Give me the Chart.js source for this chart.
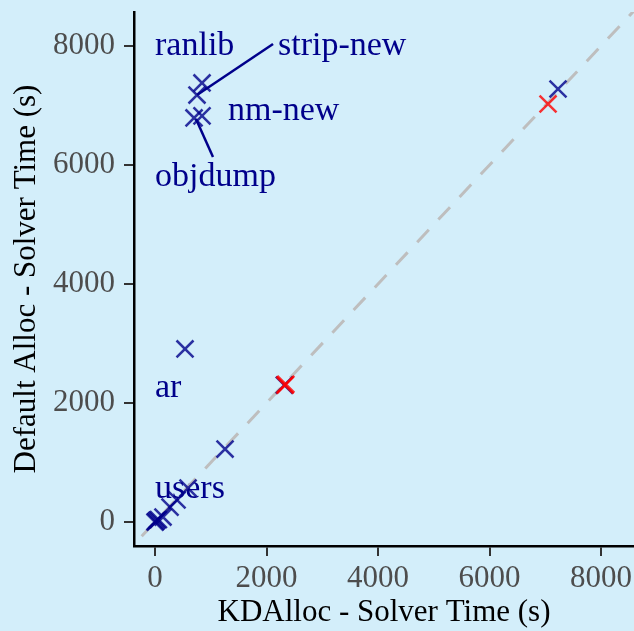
<!DOCTYPE html>
<html>
<head>
<meta charset="utf-8">
<script src="https://cdn.jsdelivr.net/npm/chart.js@4/dist/chart.umd.min.js"></script>
<style>
  html, body { margin: 0; padding: 0; background: #d3eefa; }
  #wrap { width: 634px; height: 631px; }
</style>
</head>
<body>
<div id="wrap"><canvas id="c" width="634" height="631"></canvas></div>
<script>
// Daten
const blueX = [843, 753, 843, 700, 538, 2320, 1256, 7229, 592, 395, 269, 143, 36, 0, 15, 60];
const blueY = [7378, 7176, 6824, 6790, 2908, 2300, 1227, 7277, 571, 370, 252, 84, 34, 0, 10, 40];
const redX = [2330, 2345, 7050];
const redY = [2300, 2315, 7025];
const xTicks = [0, 2000, 4000, 6000, 8000];
const yTicks = [0, 2000, 4000, 6000, 8000];

// Beschriftungen
const labelNames = ['ranlib', 'strip-new', 'nm-new', 'objdump', 'ar', 'users'];
const labelX = [0, 2206, 1309, 0, 0, 0];
const labelY = [8000, 8000, 6908, 5798, 2252, 555];
// Verbindungslinien: [x1, y1, x2, y2]
const segments = [[2117, 8034, 753, 7176], [1040, 6134, 735, 6773]];

const serif = '"Liberation Serif", "DejaVu Serif", serif';

function toPoints(xs, ys) {
  return xs.map((x, i) => ({ x: x, y: ys[i] }));
}

const labelPlugin = {
  id: 'labels',
  beforeDatasetsDraw(chart) {
    const ctx = chart.ctx;
    const xs = chart.scales.x, ys = chart.scales.y;
    ctx.save();
    ctx.fillStyle = '#00008b';
    ctx.font = '34px ' + serif;
    ctx.textAlign = 'left';
    ctx.textBaseline = 'middle';
    labelNames.forEach((t, i) => {
      ctx.fillText(t, xs.getPixelForValue(labelX[i]), ys.getPixelForValue(labelY[i]));
    });
    ctx.restore();
  },
  afterDatasetsDraw(chart) {
    const ctx = chart.ctx;
    const xs = chart.scales.x, ys = chart.scales.y;
    ctx.save();
    ctx.strokeStyle = '#00008b';
    ctx.lineWidth = 2.5;
    segments.forEach(s => {
      ctx.beginPath();
      ctx.moveTo(xs.getPixelForValue(s[0]), ys.getPixelForValue(s[1]));
      ctx.lineTo(xs.getPixelForValue(s[2]), ys.getPixelForValue(s[3]));
      ctx.stroke();
    });
    ctx.restore();
  }
};

const axisCommon = {
  type: 'linear',
  grid: { display: true, drawOnChartArea: false, drawTicks: true, tickLength: 10, color: '#333333', lineWidth: 2 },
  border: { display: true, color: '#000000', width: 2.5 },
  ticks: { color: '#4d4d4d', font: { family: serif, size: 31 }, callback: v => String(v) },
  title: { display: true, color: '#000000', font: { family: serif, size: 31 } }
};

new Chart(document.getElementById('c'), {
  type: 'scatter',
  data: {
    datasets: [
      {
        type: 'line',
        data: [{ x: -1000, y: -1000 }, { x: 10000, y: 10000 }],
        borderColor: '#bebebe',
        borderWidth: 3,
        borderDash: [17, 14],
        pointRadius: 0,
        order: 3
      },
      {
        data: toPoints(blueX, blueY),
        pointStyle: 'crossRot',
        pointRadius: 12,
        borderColor: 'rgba(0,0,139,0.8)',
        borderWidth: 2.5,
        order: 2
      },
      {
        data: toPoints(redX, redY),
        pointStyle: 'crossRot',
        pointRadius: 12,
        borderColor: 'rgba(255,0,0,0.8)',
        borderWidth: 2.5,
        order: 1
      }
    ]
  },
  options: {
    responsive: false,
    animation: false,
    layout: { autoPadding: false, padding: { top: 12, right: 0, left: 0, bottom: 0 } },
    plugins: { legend: { display: false }, tooltip: { enabled: false } },
    scales: {
      x: Object.assign({}, axisCommon, {
        min: -377, max: 8592,
        ticks: Object.assign({}, axisCommon.ticks, { padding: 4 }),
        afterBuildTicks: s => { s.ticks = xTicks.map(v => ({ value: v })); },
        afterFit: s => { s.height = 85; s.paddingLeft = 0; s.paddingRight = 0; },
        title: Object.assign({}, axisCommon.title, { text: 'KDAlloc - Solver Time (s)', padding: { top: 0, bottom: 0 } })
      }),
      y: Object.assign({}, axisCommon, {
        min: -403, max: 8571,
        ticks: Object.assign({}, axisCommon.ticks, { padding: 9 }),
        afterBuildTicks: s => { s.ticks = yTicks.map(v => ({ value: v })); },
        afterFit: s => { s.width = 134; s.paddingTop = 0; s.paddingBottom = 0; },
        title: Object.assign({}, axisCommon.title, { text: 'Default Alloc - Solver Time (s)', padding: { top: 8, bottom: 0 } })
      })
    }
  },
  plugins: [labelPlugin]
});
</script>
</body>
</html>
